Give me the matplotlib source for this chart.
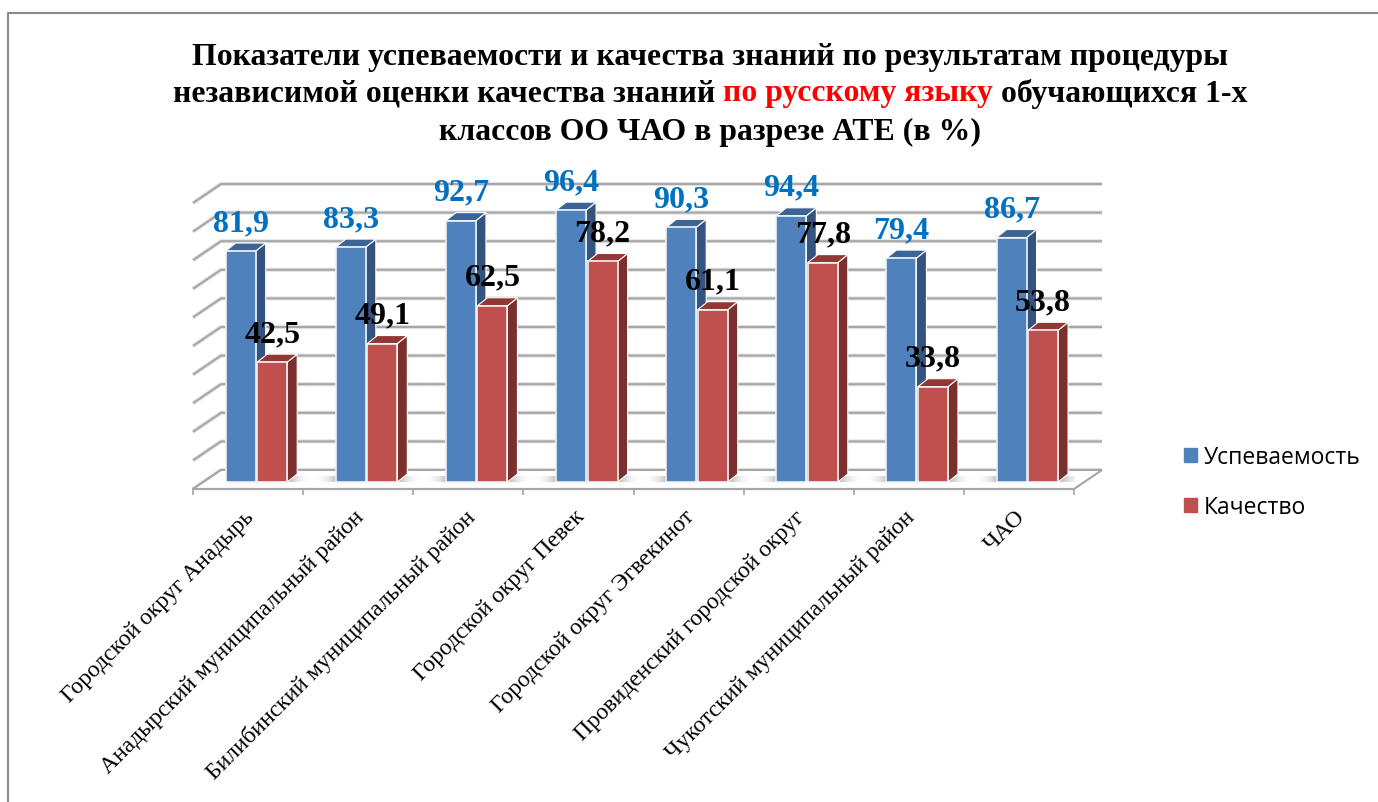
import numpy as np
import matplotlib
matplotlib.use("Agg")
import matplotlib.pyplot as plt
from matplotlib.lines import Line2D
from matplotlib.patches import Patch, Polygon

# === Data ===
districts = [
    "Городской округ Анадырь",
    "Анадырский муниципальный район",
    "Билибинский муниципальный район",
    "Городской округ Певек",
    "Городской округ Эгвекинот",
    "Провиденский городской округ",
    "Чукотский муниципальный район",
    "ЧАО",
]
progress = [81.9, 83.3, 92.7, 96.4, 90.3, 94.4, 79.4, 86.7]
quality = [42.5, 49.1, 62.5, 78.2, 61.1, 77.8, 33.8, 53.8]
grid_values = list(range(0, 101, 10))

# === Figure geometry (pixels of the 1378x803 picture) ===
W, H = 1378, 803
left_px, right_px, floor_px = 193, 1074, 490
px_per_unit = 2.82
wall_scale = 2.86 / 2.82   # back wall looks a bit bigger than the bar plane
px_per_cat = (right_px - left_px) / len(districts)
base_px = 7       # bars stand this far above the front floor edge
wall_dx_px, wall_dy_px = 28, 19
bar_dx_px, bar_dy_px = 10, 8


def dx(px):
    return px / px_per_cat


def dy(px):
    return px / px_per_unit


plt.rcParams["font.family"] = ["Liberation Serif", "DejaVu Serif"]
fig = plt.figure(figsize=(W / 100, H / 100), dpi=100)
top_px = 150
ax = fig.add_axes([left_px / W, 1 - floor_px / H,
                   (right_px - left_px) / W, (floor_px - top_px) / H])
ax.set_xlim(0, len(districts))
ax.set_ylim(-dy(base_px), -dy(base_px) + dy(floor_px - top_px))
ax.patch.set_alpha(0)

# === Frame of the pasted picture ===
fig.add_artist(Line2D([8 / W, 8 / W, 1], [0, 1 - 14 / H, 1 - 14 / H],
                      color="#8a8a8a", lw=1.5))

# === Walls and floor ===
wall_x = dx(wall_dx_px)
wall_y = dy(wall_dy_px - base_px)
front_y = -dy(base_px)
for v in grid_values:
    g = v * wall_scale
    xs = [0, wall_x, len(districts) + wall_x]
    ys = [g + front_y, g + wall_y, g + wall_y]
    ax.plot(xs, ys, color="#e4e4e4", lw=3.0, clip_on=False, zorder=1,
            solid_capstyle="butt")
    ax.plot(xs, ys, color="#a6a6a6", lw=1.5, clip_on=False, zorder=1.1,
            solid_capstyle="butt")

floor = Polygon([(0, front_y), (wall_x, wall_y),
                 (len(districts) + wall_x, wall_y), (len(districts), front_y)],
                closed=True, fc="white", ec="#a6a6a6", lw=1.5, clip_on=False, zorder=1.2)
ax.add_patch(floor)

# shadows on the floor between the bars
gradient = np.abs(np.linspace(-1, 1, 200))[None, :]
for i in range(1, len(districts) + 1):
    x0 = i - 1 + dx(96)
    x1 = i + dx(33) if i < len(districts) else len(districts) + dx(14)
    grad = gradient if i < len(districts) else gradient[:, :100]
    ax.imshow(grad, extent=(x0, x1, 0, dy(6)), cmap="Greys", vmin=0, vmax=2.6,
              aspect="auto", alpha=grad, zorder=1.3, interpolation="bilinear")
ax.set_xlim(0, len(districts))
ax.set_ylim(-dy(base_px), -dy(base_px) + dy(floor_px - top_px))

# === 3D bars ===
bar_w = dx(30)
gap = dx(1.5)
offset = dx(32.7)
x_pos = np.arange(len(districts)) + offset


def draw_bars(xs, values, front, side, top, z):
    ax.bar(xs, values, width=bar_w, align="edge", color=front,
           edgecolor="#eef1f6", linewidth=1.2, zorder=z + 0.2, clip_on=False)
    for x, v in zip(xs, values):
        r = x + bar_w
        ax.add_patch(Polygon([(r, 0), (r + dx(bar_dx_px), dy(bar_dy_px)),
                              (r + dx(bar_dx_px), v + dy(bar_dy_px)), (r, v)],
                             closed=True, fc=side, ec="white", lw=0.8,
                             zorder=z, clip_on=False))
        ax.add_patch(Polygon([(x, v), (r, v), (r + dx(bar_dx_px), v + dy(bar_dy_px)),
                              (x + dx(bar_dx_px), v + dy(bar_dy_px))],
                             closed=True, fc=top, ec="white", lw=0.8,
                             zorder=z + 0.1, clip_on=False))


draw_bars(x_pos, progress, "#4F81BD", "#34547F", "#3C6595", 2)
draw_bars(x_pos + bar_w + gap, quality, "#C0504D", "#7B302E", "#943634", 3)

# === Data labels ===
for x, v in zip(x_pos, progress):
    ax.annotate(f"{v:.1f}".replace(".", ","), (x + bar_w / 2, v), xytext=(0, 20.5),
                textcoords="offset points", ha="center", va="center",
                color="#0070C0", fontsize=23, fontweight="bold", zorder=5)
for x, v in zip(x_pos + bar_w + gap, quality):
    ax.annotate(f"{v:.1f}".replace(".", ","), (x + bar_w / 2, v), xytext=(0, 20.5),
                textcoords="offset points", ha="center", va="center",
                color="black", fontsize=23, fontweight="bold", zorder=5)

# === Axes ===
for name in ["top", "left", "right"]:
    ax.spines[name].set_visible(False)
ax.spines["bottom"].set_color("#a6a6a6")
ax.spines["bottom"].set_linewidth(1.5)
ax.set_yticks([])
ax.set_xticks(range(len(districts) + 1))
ax.set_xticklabels([])
ax.tick_params(axis="x", which="major", length=4.5, width=1.2, color="#a6a6a6")
# label ticks sit a little left of the category centre, as in the original
ax.set_xticks(np.arange(len(districts)) + 0.46, minor=True)
ax.set_xticklabels(districts, minor=True, rotation=45, ha="right", va="top",
                   rotation_mode="anchor", fontsize=17)
ax.tick_params(axis="x", which="minor", length=0, pad=12)

# === Legend ===
handles = [Patch(color="#4F81BD", label="Успеваемость"), Patch(color="#C0504D", label="Качество")]
fig.legend(handles=handles, loc="upper left", bbox_to_anchor=(1173 / W, 1 - 435 / H),
           frameon=False, handlelength=0.56, handleheight=0.56, handletextpad=0.3,
           labelspacing=1.1, borderpad=0, prop={"family": "Open Sans", "size": 16.5})

# === Title with the red part ===
title_lines = [
    [("Показатели успеваемости и качества знаний по результатам процедуры", "black")],
    [("независимой оценки качества знаний ", "black"), ("по русскому языку", "#FF0000"),
     (" обучающихся 1-х", "black")],
    [("классов ОО ЧАО в разрезе АТЕ (в %)", "black")],
]
title_y = [58, 94, 132]
title_cx = 710
renderer = fig.canvas.get_renderer()
for parts, y_px in zip(title_lines, title_y):
    pieces = [fig.text(0, 1 - y_px / H, s.replace(" ", "\u00a0"), color=c, fontsize=22.9,
                       fontweight="bold", va="center", ha="left") for s, c in parts]
    widths = [p.get_window_extent(renderer).width for p in pieces]
    x = title_cx - sum(widths) / 2
    for p, w in zip(pieces, widths):
        p.set_x(x / W)
        x += w

fig.savefig("out.png", dpi=100)
